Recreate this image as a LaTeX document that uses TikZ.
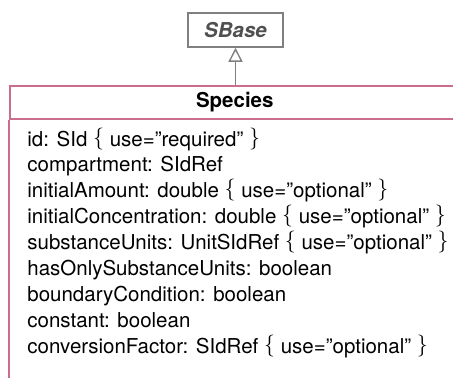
\documentclass[tikz,border=0pt]{standalone}
\usepackage{fontspec}
\setmainfont{TeX Gyre Heros}
\usetikzlibrary{arrows.meta}
\definecolor{classpink}{RGB}{204,108,142}
\definecolor{basegray}{RGB}{128,128,128}
\definecolor{basetext}{RGB}{80,80,80}
\newcommand{\lbr}{\raisebox{1pt}{\fontsize{11}{12}\selectfont$\{$}}
\newcommand{\rbr}{\raisebox{1pt}{\fontsize{11}{12}\selectfont$\}$}}

\begin{document}
\begin{tikzpicture}[x=0.5pt,y=0.5pt,
        font=\fontsize{10.25}{12}\selectfont,
        basebox/.style={draw=basegray,line width=0.75pt,minimum width=47.5pt,minimum height=17pt,inner sep=0pt,text=basetext},
        classbox/.style={draw=classpink,line width=1pt,minimum width=225.25pt,minimum height=16.5pt,inner sep=0pt},
        attr/.style={anchor=base west,inner sep=0pt}]
        \useasboundingbox (0,0) rectangle (453,377);
        \clip (0,0) rectangle (453,377);
        \node [basebox] (sbase) at (235.5,347) {\bfseries\itshape SBase};
        \node [classbox] (species) at (234.75,275) {\bfseries Species};
        \draw [classpink,line width=1pt] (species.south west) -- ++(0,-300);
        \draw [classpink,line width=1pt] (species.south east) -- ++(0,-300);
        \foreach \txt [count=\i from 0] in {
                {id: SId \lbr\ use=”required” \rbr},
                {compartment: SIdRef},
                {initialAmount: double \lbr\ use=”optional” \rbr},
                {initialConcentration: double \lbr\ use=”optional” \rbr},
                {substanceUnits: UnitSIdRef \lbr\ use=”optional” \rbr},
                {hasOnlySubstanceUnits: boolean},
                {boundaryCondition: boolean},
                {constant: boolean},
                {conversionFactor: SIdRef \lbr\ use=”optional” \rbr}}
                \node [attr] (attr\i) at (27,{231-25.9*\i}) {\txt};
        \draw[-{Triangle[open,length=7pt,width=7pt]},draw=basegray,line width=0.7pt] (species.north -| sbase.south) -- (sbase.south);
\end{tikzpicture}
\end{document}
